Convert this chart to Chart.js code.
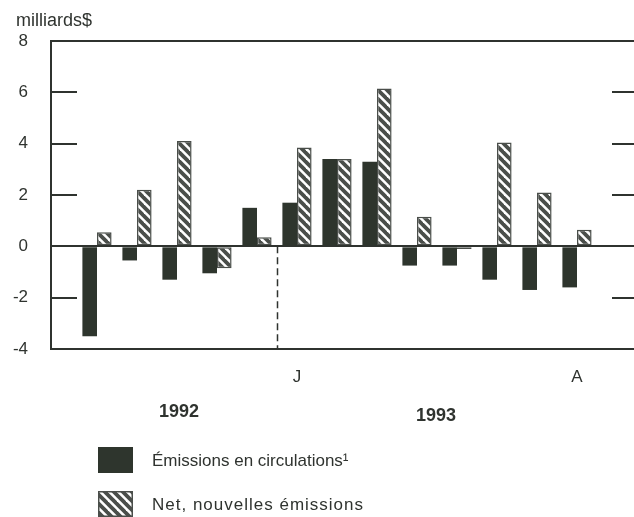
<!DOCTYPE html>
<html>
<head>
<meta charset="utf-8">
<script src="https://cdn.jsdelivr.net/npm/chart.js@4/dist/chart.umd.min.js"></script>
<style>
  html, body { margin: 0; padding: 0; background: #fff; overflow: hidden; }
  #wrap { position: absolute; left: 0; top: 0; width: 660px; height: 517px; }
</style>
</head>
<body>
<div id="wrap"><canvas id="c"></canvas></div>
<script>
// ---- data ----
const months = ['août 1992','sept','oct','nov','déc','janv 1993','févr','mars','avr','mai','juin','juil','août 1993'];
const tickLabels = ['', '', '', '', '', 'J', '', '', '', '', '', '', 'A'];
const emissionsEnCirculation = [-3.5, -0.55, -1.3, -1.05, 1.5, 1.7, 3.4, 3.3, -0.75, -0.75, -1.3, -1.7, -1.6];
const netNouvellesEmissions = [0.55, 2.2, 4.1, -0.85, 0.35, 3.85, 3.4, 6.15, 1.15, -0.1, 4.05, 2.1, 0.65];
const yearLabels = ['1992', '1993'];
const yearFirstIndex = [0, 5];
const yearLastIndex = [4, 12];
const yTicks = [-4, -2, 0, 2, 4, 6, 8];
const seriesNames = ['Émissions en circulations¹', 'Net, nouvelles émissions'];
const unitLabel = 'milliards$';

// ---- styles ----
const FONT = "'Liberation Sans', Arial, Helvetica, sans-serif";
const INK = '#2f332f';
const DARK = '#2e352d';
const HATCH_INK = '#4a4e4a';

function makeHatch() {
  const s = 9;
  const c = document.createElement('canvas');
  c.width = s; c.height = s;
  const g = c.getContext('2d');
  g.fillStyle = '#ffffff';
  g.fillRect(0, 0, s, s);
  g.strokeStyle = HATCH_INK;
  g.lineWidth = 3.8;
  g.lineCap = 'square';
  [[0, 0, s, s], [-s, 0, 0, s], [s, 0, 2 * s, s]].forEach(([a, b, cc, d]) => {
    g.beginPath(); g.moveTo(a, b); g.lineTo(cc, d); g.stroke();
  });
  return g.createPattern(c, 'repeat');
}
const hatch = makeHatch();

const decor = {
  id: 'decor',
  afterDraw(chart) {
    const { ctx, chartArea: ca, scales: { x, y } } = chart;
    ctx.save();
    // inward tick marks, left and right
    ctx.strokeStyle = INK;
    ctx.lineWidth = 2;
    y.ticks.forEach(t => {
      if (t.value === y.min || t.value === y.max || t.value === 0) return;
      const py = Math.round(y.getPixelForValue(t.value));
      ctx.beginPath(); ctx.moveTo(ca.left, py); ctx.lineTo(ca.left + 26, py); ctx.stroke();
      ctx.beginPath(); ctx.moveTo(ca.right - 25, py); ctx.lineTo(ca.right, py); ctx.stroke();
    });
    // dashed separator between years
    const sx = Math.round(x.getPixelForValue((yearLastIndex[0] + yearFirstIndex[1]) / 2)) + 0.5;
    ctx.setLineDash([7, 4]);
    ctx.lineWidth = 1.5;
    ctx.beginPath(); ctx.moveTo(sx, y.getPixelForValue(0)); ctx.lineTo(sx, ca.bottom); ctx.stroke();
    ctx.setLineDash([]);
    // unit label
    ctx.fillStyle = INK;
    ctx.font = '18px ' + FONT;
    ctx.textAlign = 'left';
    ctx.textBaseline = 'middle';
    ctx.fillText(unitLabel, ca.left - 35, ca.top - 20);
    // year labels
    ctx.font = 'bold 18px ' + FONT;
    ctx.textAlign = 'center';
    yearLabels.forEach((lab, i) => {
      const cx = x.getPixelForValue((yearFirstIndex[i] + yearLastIndex[i]) / 2);
      ctx.fillText(lab, cx + (i === 0 ? 2 : -1), ca.bottom + 63 + i * 4);
    });
    // legend
    const ds = chart.data.datasets;
    ctx.font = '17px ' + FONT;
    ctx.textAlign = 'left';
    ds.forEach((d, i) => {
      const bx = ca.left + 47, by = ca.bottom + 98 + i * 44;
      ctx.fillStyle = d.backgroundColor;
      ctx.fillRect(bx, by, 35, 26);
      if (d.borderWidth) {
        ctx.strokeStyle = d.borderColor;
        ctx.lineWidth = 1.5;
        ctx.strokeRect(bx + 0.75, by + 0.75, 33.5, 24.5);
      }
      ctx.fillStyle = INK;
      ctx.letterSpacing = i === 1 ? '1px' : '0px';
      ctx.fillText(d.label, ca.left + 101, by + 14);
    });
    ctx.letterSpacing = '0px';
    ctx.restore();
  }
};

new Chart(document.getElementById('c'), {
  type: 'bar',
  data: {
    datasets: [
      {
        label: seriesNames[0],
        data: emissionsEnCirculation.map((v, i) => ({ x: i, y: v })),
        backgroundColor: DARK,
        borderWidth: 0,
        categoryPercentage: 0.73,
        barPercentage: 1.0
      },
      {
        label: seriesNames[1],
        data: netNouvellesEmissions.map((v, i) => ({ x: i, y: v })),
        backgroundColor: hatch,
        borderColor: HATCH_INK,
        borderWidth: 1.5,
        borderSkipped: false,
        categoryPercentage: 0.73,
        barPercentage: 1.0
      }
    ]
  },
  options: {
    responsive: true,
    maintainAspectRatio: false,
    animation: false,
    devicePixelRatio: 1,
    layout: { padding: { top: 41, left: 0, right: 23, bottom: 0 } },
    plugins: { legend: { display: false }, tooltip: { enabled: false }, title: { display: false } },
    scales: {
      x: {
        type: 'linear',
        min: -1.15,
        max: 13.5,
        offset: false,
        bounds: 'data',
        grid: { display: false, drawTicks: false },
        border: { display: false },
        afterBuildTicks: s => { s.ticks = months.map((_, i) => ({ value: i })); },
        afterFit: s => { s.height = 168; },
        ticks: {
          autoSkip: false,
          maxRotation: 0,
          padding: 18,
          color: INK,
          font: { family: FONT, size: 17 },
          callback: v => tickLabels[v] ?? ''
        }
      },
      y: {
        min: -4,
        max: 8,
        afterBuildTicks: s => { s.ticks = yTicks.map(v => ({ value: v })); },
        afterFit: s => { s.width = 51; },
        grid: {
          drawTicks: false,
          lineWidth: 2,
          color: c => (c.tick && (c.tick.value === 8 || c.tick.value === 0 || c.tick.value === -4)) ? INK : 'rgba(0,0,0,0)'
        },
        border: { display: true, color: INK, width: 2 },
        ticks: {
          padding: 23,
          color: INK,
          font: { family: FONT, size: 17 }
        }
      }
    }
  },
  plugins: [decor]
});
</script>
</body>
</html>
